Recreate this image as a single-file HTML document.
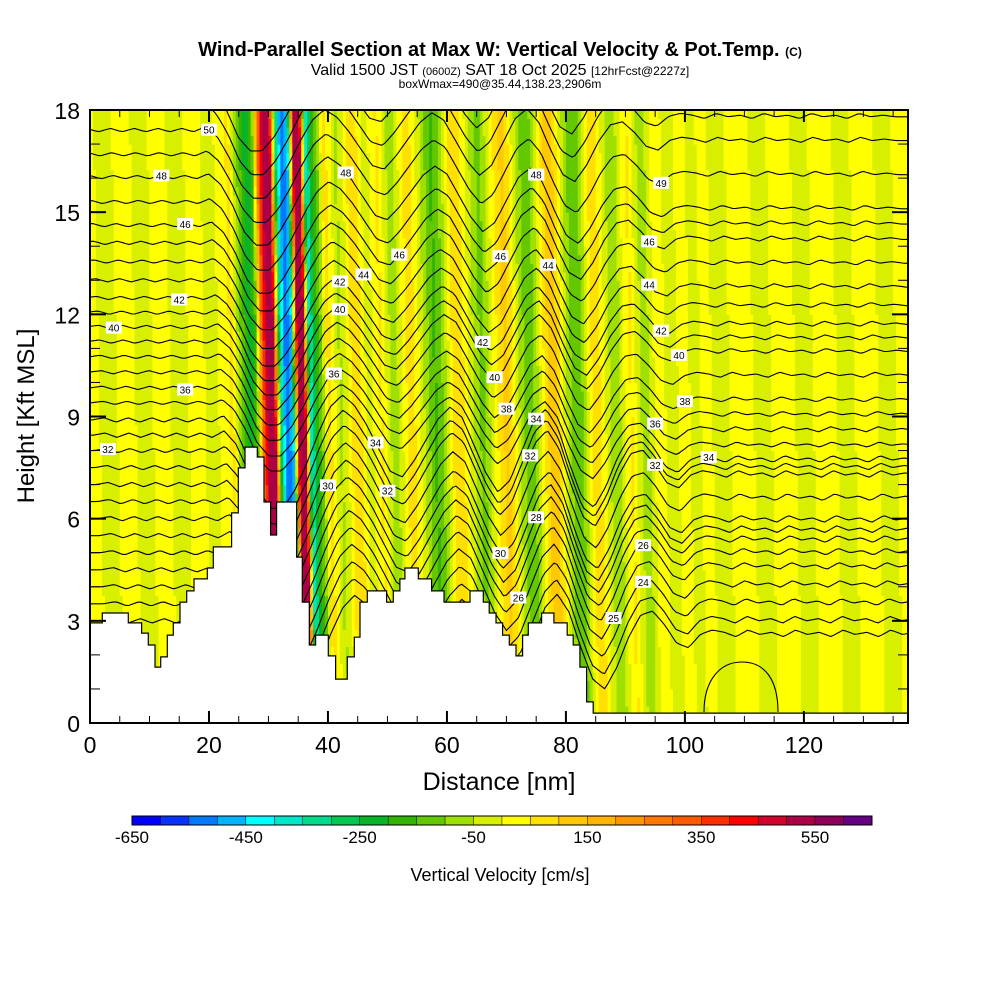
<!DOCTYPE html>
<html><head><meta charset="utf-8">
<style>
body{margin:0;background:#fff;}
svg text{font-family:"Liberation Sans",sans-serif;}
</style></head>
<body>
<svg id="chart" width="1000" height="1000" viewBox="0 0 1000 1000" xmlns="http://www.w3.org/2000/svg">
<defs><clipPath id="plotclip"><rect x="90" y="110" width="818" height="613"/></clipPath></defs>
<text x="500" y="56" text-anchor="middle" font-size="20" font-weight="bold">Wind-Parallel Section at Max W: Vertical Velocity &amp; Pot.Temp. <tspan font-size="12">(C)</tspan></text>
<text x="500" y="75" text-anchor="middle" font-size="16">Valid 1500 JST <tspan font-size="11">(0600Z)</tspan> SAT 18 Oct 2025 <tspan font-size="12">[12hrFcst@2227z]</tspan></text>
<text x="500" y="88" text-anchor="middle" font-size="12">boxWmax=490@35.44,138.23,2906m</text>
<g id="field" clip-path="url(#plotclip)"></g>
<g id="contours" clip-path="url(#plotclip)"></g>
<g id="terrain" clip-path="url(#plotclip)"></g>
<g id="labels" clip-path="url(#plotclip)"></g>
<rect x="90" y="110" width="818" height="613" fill="none" stroke="#000" stroke-width="2"/>
<g id="axes"></g>
<text transform="translate(34,416) rotate(-90)" text-anchor="middle" font-size="24">Height [Kft MSL]</text>
<text x="499" y="790" text-anchor="middle" font-size="25">Distance [nm]</text>
<g id="colorbar"></g>
<text x="500" y="881" text-anchor="middle" font-size="18">Vertical Velocity [cm/s]</text>
</svg>
<script>
const NS="http://www.w3.org/2000/svg";
const palette=["#0000ff","#0a32ff","#0078ff","#00b4ff","#00ffff","#00e6c8","#00dc8c","#00c850","#0ab428","#32b400","#64c800","#a0e000","#d8f000","#ffff00","#ffe000","#ffc800","#ffb400","#ff9600","#ff7800","#ff5a00","#ff2d00","#ff0000","#d2002d","#aa0046","#8c005a","#640082"];
const cbarLabels=[-650,-450,-250,-50,150,350,550];
const xTicks=[0,20,40,60,80,100,120];
const yTicks=[0,3,6,9,12,15,18];
const wCol=[15,10,-10,-20,-10,10,20,15,-10,-20,-10,10,20,10,-10,-20,-10,10,20,10,-20,-30,20,40,60,-60,
-150,-250,-150,300,550,500,-300,-550,-450,500,550,-400,-200,-100,80,20,-60,-30,60,100,20,-40,30,60,-20,-80,-40,40,80,30,-40,-100,-160,-120,-40,60,100,40,-20,-80,-120,-60,20,80,120,60,-40,-100,-140,-80,20,100,140,60,-40,-110,-150,-80,30,90,40,-30,-90,-60,20,60,-20,-70,-50,10,40,-20,-40,10,30,-10,-30,
20,10,-10,-20,-10,10,20,20,10,-10,-20,-10,10,20,20,10,-10,-20,-10,10,20,20,10,-10,-20,-10,10,20,20,10,-10,-20,-10,10,20];
const dispD=[0,0.05,-0.05,0.05,-0.05,0.05,-0.05,0.05,-0.05,0.05,-0.05,0.1,-0.2,
-0.8,-1.6,-2.0,-2.0,-1.6,-1.0,-0.3,0.3,0.6,0.4,0,-0.5,-1.0,-1.1,-0.7,-0.2,0.3,0.6,0.4,-0.2,-0.8,-1.2,-0.9,-0.2,0.5,0.8,0.4,-0.4,-1.1,-1.3,-0.8,-0.1,0.4,0.5,0.2,-0.2,-0.3,0,0.1,
0.05,-0.05,0.1,0,0.05,-0.05,0.1,0,0.05,-0.05,0.1,0,0.05,-0.05,0.1,0,0.05,0];
const thetaLevels=[22,23,24,25,26,27,28,29,30,31,32,33,34,35,36,37,38,39,40,41,42,43,44,45,46,47,48,49,50,51,52];
const hLeft=[3.0,3.5,4.0,4.5,5.0,5.5,6.0,6.5,7.0,7.5,8.0,8.45,8.9,9.4,9.84,10.3,10.75,11.2,11.63,12.05,12.48,13.0,13.55,14.1,14.62,15.3,16.03,16.7,17.41,18.1,18.8];
const hRight=[2.6,3.0,3.52,4.05,4.58,5.0,5.37,5.66,5.96,6.6,7.28,7.5,7.72,8.15,8.6,9.05,9.48,10.2,10.9,11.3,11.7,12.25,12.8,13.5,14.2,14.65,15.1,16.1,17.1,17.8,18.5];
const terrX=[0,2.07,6.44,8.68,9.8,10.92,11.88,13.0,14.0,15.13,16.25,17.48,19.72,20.73,23.81,24.93,26.05,28.12,29.24,30.36,31.37,34.73,35.69,36.86,37.93,40.06,41.29,43.25,44.43,45.38,46.61,49.86,50.98,52.1,52.94,55.18,57.42,59.5,63.87,66.11,67.11,68.24,69.36,70.48,71.6,72.72,73.67,75.91,77.98,80.22,81.23,82.35,83.47,84.59];
const terrH=[2.94,3.23,2.94,2.64,2.29,1.64,1.94,2.58,2.94,3.55,3.88,4.23,4.55,5.17,6.17,7.49,8.1,7.81,6.49,5.52,6.49,4.87,3.55,2.29,2.58,1.97,1.29,1.94,2.52,3.55,3.88,3.55,3.88,4.23,4.55,4.23,3.88,3.55,3.88,3.55,3.23,2.94,2.58,2.29,1.97,2.58,2.94,3.23,2.94,2.58,2.29,1.64,0.62,0.29];
const labelNm=[20,12,16,15,4,16,3,43,52,69,46,75,66,77,96,94,94,96,99,100,95,104,48,50,70,75,74,40,69,72,75,88,93,93,95,42,42,41,68];
const labelLev=[50,48,46,42,40,36,32,48,46,46,44,48,42,44,49,46,44,42,40,38,36,34,34,32,38,34,32,30,30,26,28,25,26,24,32,40,42,36,40];
const XMAX=137.5;
const X=nm=>90+nm*818/XMAX, Y=k=>723-k*613/18;
const mk=(tag,attrs,parent)=>{const e=document.createElementNS(NS,tag);for(const k in attrs)e.setAttribute(k,attrs[k]);parent.appendChild(e);return e;};
function interp(arr,step,s){const f=s/step;if(f<=0)return arr[0];if(f>=arr.length-1)return arr[arr.length-1];const i=Math.floor(f),t=f-i;return arr[i]*(1-t)+arr[i+1]*t;}
function colorOf(w){let b=Math.floor((w+650)/50);b=Math.max(0,Math.min(25,b));return palette[b];}
const LEAN=0.12, CLEAN=0.35;
const field=document.getElementById('field');
const dx=0.5,dz=0.25;
for(let z=0;z<18;z+=dz){
  let runStart=0,runCol=null;
  for(let x=0;x<=XMAX+dx;x+=dx){
    const s=x+dx/2+LEAN*(z+dz/2-10);
    const c=x<XMAX?colorOf(interp(wCol,1,s)):null;
    if(c!==runCol){
      if(runCol){const r=mk('rect',{x:X(runStart).toFixed(1),y:Y(z+dz).toFixed(1),width:(X(x)-X(runStart)+0.6).toFixed(1),height:(Y(z)-Y(z+dz)+0.6).toFixed(1),fill:runCol},field);
        
        }
      runStart=x;runCol=c;
    }
  }
}
function contourZ(li,x){
  const t=Math.max(0,Math.min(1,(x-40)/60));
  const base=hLeft[li]*(1-t)+hRight[li]*t;
  const amp=thetaLevels[li]<=34?1.3:1.0;
  return base+amp*interp(dispD,2,x+CLEAN*(base-10));
}
const cg=document.getElementById('contours');
thetaLevels.forEach((lev,li)=>{
  let d='';
  for(let x=0;x<=XMAX;x+=0.5){d+=(x===0?'M':'L')+X(x).toFixed(1)+','+Y(contourZ(li,x)).toFixed(1);}
  const p=mk('path',{d:d,fill:'none',stroke:'#000','stroke-width':1.1},cg);
  
  
});
const closed=mk('path',{d:'M704,712 C704,680 720,662 742,662 C765,662 778,680 778,712',fill:'none',stroke:'#000','stroke-width':1.1},cg);


const tg=document.getElementById('terrain');
let td='M'+X(0)+','+Y(0)+' ';
terrX.forEach((x,i)=>{const x2=i<terrX.length-1?terrX[i+1]:XMAX;td+='L'+X(x).toFixed(1)+','+Y(terrH[i]).toFixed(1)+' L'+X(x2).toFixed(1)+','+Y(terrH[i]).toFixed(1)+' ';});
td+='L'+X(XMAX)+','+Y(0)+' Z';
const tp=mk('path',{d:td,fill:'#fff',stroke:'#000','stroke-width':1.2},tg);


const lg=document.getElementById('labels');
labelNm.forEach((nm,i)=>{
  const li=thetaLevels.indexOf(labelLev[i]);
  const cx=X(nm),cy=Y(contourZ(li,nm));
  const r=mk('rect',{x:cx-8,y:cy-6,width:16,height:12,fill:'#fff'},lg);
  
  
  const t=mk('text',{x:cx,y:cy+4,'text-anchor':'middle','font-size':10},lg);
  t.textContent=labelLev[i];
  
  
});
const ag=document.getElementById('axes');
for(let v=0;v<=XMAX;v+=5){const major=v%20===0;const L=major?12:7;
  const a=mk('line',{x1:X(v),x2:X(v),y1:723,y2:723-L,stroke:'#000','stroke-width':major?2:1},ag);
  
  const b=mk('line',{x1:X(v),x2:X(v),y1:110,y2:110+L,stroke:'#000','stroke-width':major?2:1},ag);
  }
for(let v=0;v<=18;v+=1){const major=v%3===0;const L=major?16:10;
  const a=mk('line',{x1:90,x2:90+L,y1:Y(v),y2:Y(v),stroke:'#000','stroke-width':major?2:1},ag);
  
  const b=mk('line',{x1:908,x2:908-L,y1:Y(v),y2:Y(v),stroke:'#000','stroke-width':major?2:1},ag);
  }
xTicks.forEach(v=>{const t=mk('text',{x:X(v),y:753,'text-anchor':'middle','font-size':23},ag);t.textContent=v;
  });
yTicks.forEach(v=>{const t=mk('text',{x:80,y:Y(v)+9,'text-anchor':'end','font-size':23},ag);t.textContent=v;
  });
const cb=document.getElementById('colorbar');
const cbx0=132,cbw=740/26;
palette.forEach((c,i)=>{const r=mk('rect',{x:cbx0+i*cbw,y:816,width:cbw,height:9,fill:c,stroke:'#000','stroke-width':0.4},cb);
  });
const fr=mk('rect',{x:cbx0,y:816,width:740,height:9,fill:'none',stroke:'#000','stroke-width':1},cb);

cbarLabels.forEach(v=>{const t=mk('text',{x:cbx0+(v+650)/50*cbw,y:843,'text-anchor':'middle','font-size':17},cb);t.textContent=v;
  });
</script>
</body></html>
